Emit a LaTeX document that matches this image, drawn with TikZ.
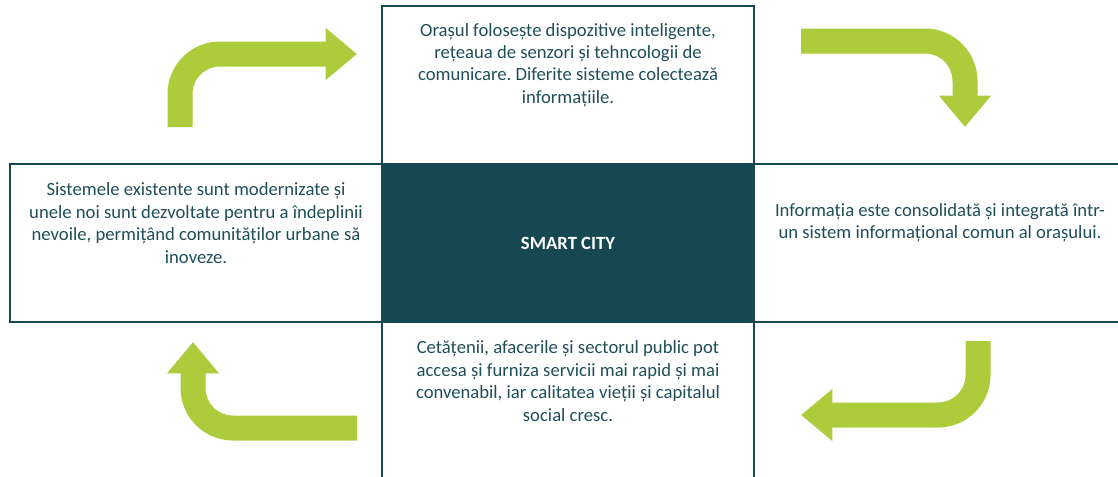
\documentclass[tikz,border=0pt]{standalone}
\usepackage{fontspec}
\setmainfont{Carlito}
\usetikzlibrary{positioning,arrows.meta}
\definecolor{cityteal}{HTML}{164852}
\definecolor{citytext}{HTML}{1F4E59}
\definecolor{citygreen}{HTML}{ADCC3B}
\frenchspacing
\begin{document}
\begin{tikzpicture}[x=0.75pt,y=-0.75pt]
\useasboundingbox (0,0) rectangle (1118,476);
\begin{scope}[every node/.style = {rectangle, draw=cityteal, line width=1.1pt, outer sep=0pt, inner sep=0pt, minimum width=279pt, minimum height=118.5pt, text=citytext, font=\fontsize{14pt}{16.8pt}\selectfont},
  infobox/.style = {execute at begin node={\begin{minipage}[c][118.5pt][c]{275pt}\centering}, execute at end node={\endgraf\vspace*{30pt}\end{minipage}}}]
\node[fill=cityteal, text=white, font=\fontsize{14pt}{16.8pt}\selectfont\bfseries] (city) at (568,243) {SMART CITY};
\node[infobox, above=0pt of city] (collect) {Orașul folosește dispozitive inteligente,\\ rețeaua de senzori și tehncologii de\\ comunicare. Diferite sisteme colectează\\ informațiile.};
\node[infobox, right=0pt of city] (integrate) {Informația este consolidată și integrată într-\\ un sistem informațional comun al orașului.};
\node[infobox, below=0pt of city] (access) {Cetățenii, afacerile și sectorul public pot\\ accesa și furniza servicii mai rapid și mai\\ convenabil, iar calitatea vieții și capitalul\\ social cresc.};
\node[infobox, left=0pt of city] (innovate) {Sistemele existente sunt modernizate și\\ unele noi sunt dezvoltate pentru a îndeplinii\\ nevoile, permițând comunităților urbane să\\ inoveze.};
\end{scope}
% curved arrows between the boxes
\coordinate (a1s) at (180,127);
\coordinate (a1e) at (357,54);
\coordinate (a2s) at (801,41);
\coordinate (a2e) at (965,127);
\coordinate (a3s) at (978,341);
\coordinate (a3e) at (801,415);
\coordinate (a4s) at (357,428);
\coordinate (a4e) at (193,342);
\begin{scope}[every path/.style = {draw=citygreen, line width=18.75pt, rounded corners=30pt, -{Triangle[width=37.5pt, length=23.5pt]}}]
\path (a1s) |- (a1e);
\path (a2s) -| (a2e);
\path (a3s) |- (a3e);
\path (a4s) -| (a4e);
\end{scope}
\end{tikzpicture}
\end{document}
